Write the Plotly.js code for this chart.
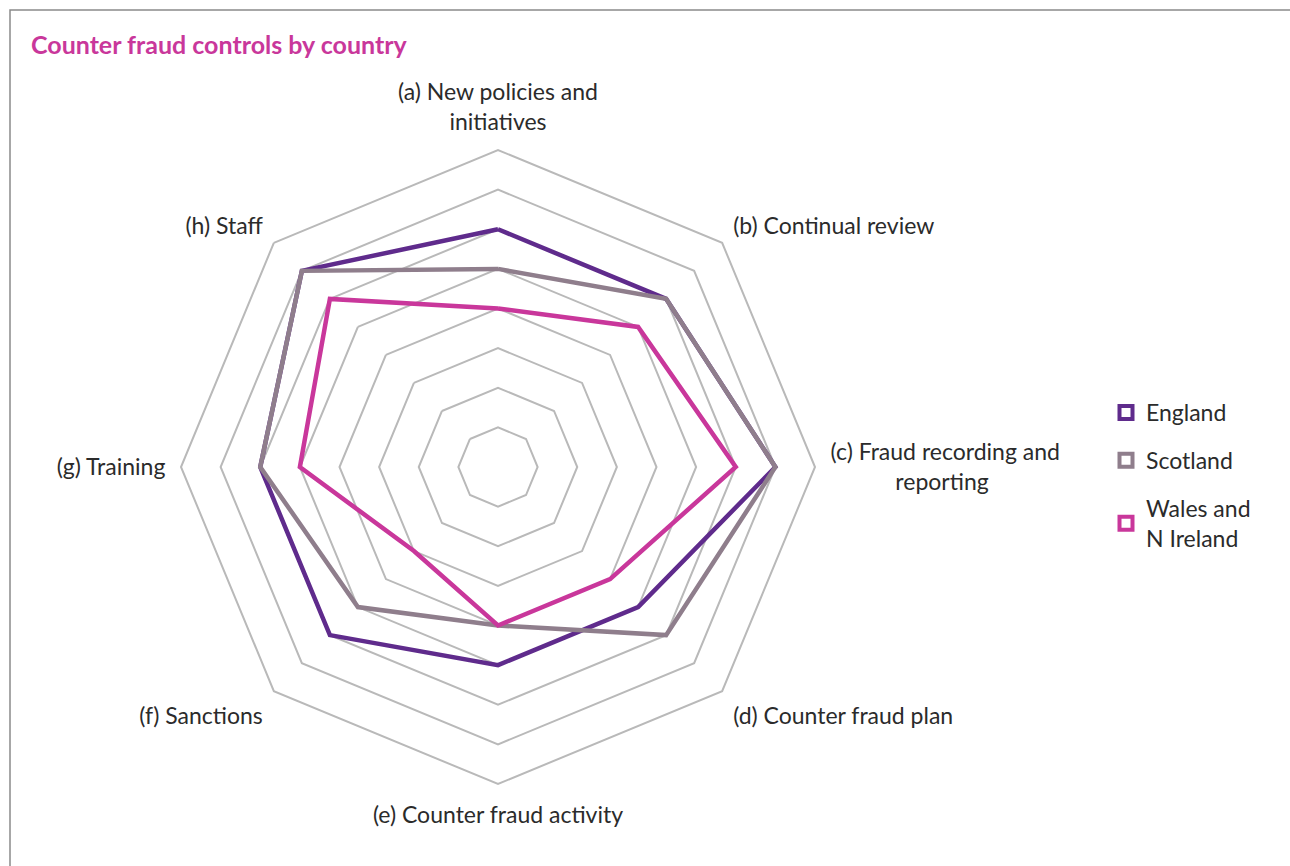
<!DOCTYPE html>
<html>
<head>
<meta charset="utf-8">
<script src="https://cdn.plot.ly/plotly-3.0.1.min.js"></script>
<style>html,body{margin:0;padding:0;background:#fff;}#chart{width:1290px;height:866px;}</style>
</head>
<body>
<div id="chart"></div>
<script>
const NB = "\u00a0";
const categories = [
  "(a) New policies and<br>initiatives",
  "(b) Continual review",
  "(c) Fraud recording and<br>" + NB.repeat(11) + "reporting",
  "(d) Counter fraud plan",
  "(e) Counter fraud activity",
  "(f) Sanctions",
  "(g) Training",
  "(h) Staff"
];
const england = [6, 6, 7, 5, 5, 6, 6, 7];
const scotland = [5, 6, 7, 6, 4, 5, 6, 7];
const walesNI = [4, 5, 6, 4, 4, 3, 5, 6];
const seriesNames = ["England", "Scotland", "Wales and<br>N Ireland"];
const seriesColors = ["#5f2b8c", "#8f7e8c", "#c9379b"];
const ringVals = [1, 2, 3, 4, 5, 6, 7, 8];

const close = a => a.concat([a[0]]);
const theta = close(categories);
const data = [england, scotland, walesNI].map((vals, i) => ({
  type: "scatterpolar",
  r: close(vals),
  theta: theta,
  mode: "lines",
  line: {color: seriesColors[i], width: 4.5, shape: "linear"},
  name: seriesNames[i],
  showlegend: false,
  hoverinfo: "skip"
}));
seriesNames.forEach((n, i) => {
  data.push({
    type: "scatterpolar",
    r: [null],
    theta: [categories[0]],
    mode: "markers",
    marker: {symbol: "square", size: 13, color: "#ffffff", line: {color: seriesColors[i], width: 4}},
    name: n,
    legendgroup: "g" + i,
    showlegend: true
  });
});

const FONT = "Lato, Noto Sans, sans-serif";
const W = 1290, H = 866, cx = 498, cy = 467, R = 317;
const layout = {
  width: W, height: H,
  margin: {l: 0, r: 0, t: 0, b: 0},
  paper_bgcolor: "#ffffff",
  font: {family: FONT, color: "#2b2b2b", size: 23},
  title: {
    text: "<b>Counter fraud controls by country</b>",
    font: {size: 25, color: "#c9379b", family: FONT},
    x: 31 / W, xanchor: "left", xref: "paper",
    y: 1 - 45 / H, yanchor: "middle", yref: "paper"
  },
  polar: {
    domain: {x: [(cx - R) / W, (cx + R) / W], y: [(H - cy - R) / H, (H - cy + R) / H]},
    gridshape: "linear",
    bgcolor: "rgba(0,0,0,0)",
    radialaxis: {
      range: [0, 8], tickvals: ringVals, showticklabels: false, ticks: "",
      showline: false, gridcolor: "#b9b9b9", gridwidth: 2
    },
    angularaxis: {
      direction: "clockwise", rotation: 90,
      showgrid: false, showline: true, linecolor: "#b9b9b9", linewidth: 2,
      ticks: "outside", ticklen: 10, tickcolor: "rgba(0,0,0,0)",
      tickfont: {size: 23, color: "#2b2b2b", family: FONT}
    }
  },
  showlegend: true,
  legend: {
    x: 1106 / W, xanchor: "left", y: 1 - 391 / H, yanchor: "top",
    font: {size: 23, color: "#2b2b2b", family: FONT},
    tracegroupgap: 15, itemwidth: 30,
    bgcolor: "rgba(0,0,0,0)"
  },
  shapes: [{
    type: "path", xref: "paper", yref: "paper",
    path: `M ${1.02} ${1 - 10 / H} L ${10 / W} ${1 - 10 / H} L ${10 / W} ${-0.02}`,
    line: {color: "#8a8a8a", width: 1.5}
  }]
};
Plotly.newPlot("chart", data, layout, {displayModeBar: false, staticPlot: true});
</script>
</body>
</html>
